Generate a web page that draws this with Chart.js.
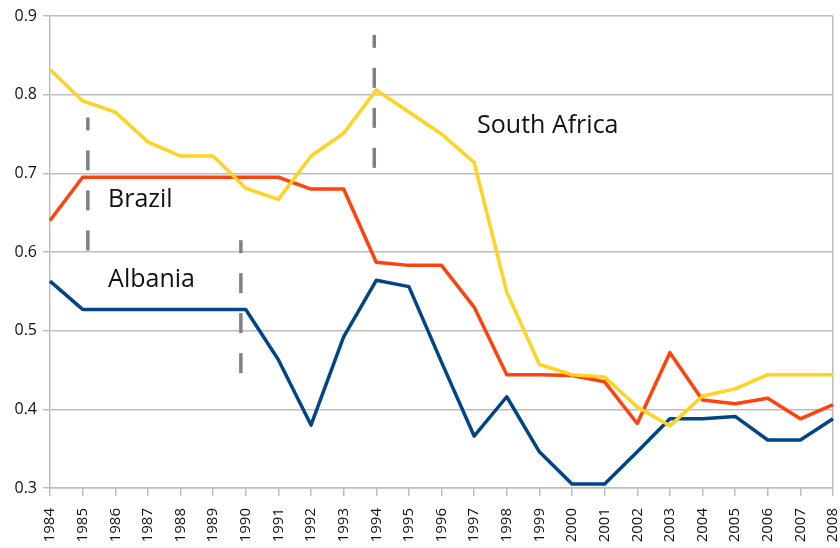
<!DOCTYPE html>
<html>
<head>
<meta charset="utf-8">
<script src="https://cdn.jsdelivr.net/npm/chart.js@4/dist/chart.umd.min.js"></script>
<style>
  html, body { margin: 0; padding: 0; background: #ffffff; }
  #wrap { width: 840px; height: 548px; position: relative; }
</style>
</head>
<body>
<div id="wrap"><canvas id="c" width="840" height="548"></canvas></div>
<script>
const years = ['1984','1985','1986','1987','1988','1989','1990','1991','1992','1993','1994','1995','1996','1997','1998','1999','2000','2001','2002','2003','2004','2005','2006','2007','2008'];

const southAfrica = [0.832,0.792,0.778,0.740,0.722,0.722,0.681,0.667,0.722,0.751,0.806,0.778,0.750,0.714,0.549,0.457,0.444,0.441,0.403,0.379,0.417,0.426,0.444,0.444,0.444];
const brazil      = [0.640,0.695,0.695,0.695,0.695,0.695,0.695,0.695,0.680,0.680,0.587,0.583,0.583,0.530,0.444,0.444,0.443,0.435,0.382,0.472,0.412,0.407,0.414,0.388,0.406];
const albania     = [0.563,0.527,0.527,0.527,0.527,0.527,0.527,0.463,0.380,0.492,0.564,0.556,0.460,0.366,0.416,0.346,0.305,0.305,0.346,0.388,0.388,0.391,0.361,0.361,0.388];

// dashed vertical markers: year position, low value, high value
const markerYears = [1985.16, 1989.85, 1993.94];
const markerLow   = [0.602, 0.446, 0.707];
const markerHigh  = [0.771, 0.615, 0.876];

// series name annotations: text, x (category index), y (value)
const labelTexts = ['South Africa','Brazil','Albania'];
const labelX     = [13.09, 1.78, 1.78];
const labelY     = [0.760, 0.666, 0.564];

const yTicks = [0.3,0.4,0.5,0.6,0.7,0.8,0.9];

const FONT = "'Open Sans', 'DejaVu Sans', sans-serif";
const GRID = '#bdbdbd';

const markerDatasets = markerYears.map((yr, i) => ({
  label: 'marker' + i,
  xAxisID: 'xm',
  data: [{x: yr, y: markerLow[i]}, {x: yr, y: markerHigh[i]}],
  borderColor: '#808080',
  borderWidth: 3.5,
  borderDash: [20, 20],
  borderCapStyle: 'butt',
  pointRadius: 0,
  fill: false,
  tension: 0
}));

const labelPlugin = {
  id: 'seriesLabels',
  afterDatasetsDraw(chart) {
    const ctx = chart.ctx;
    const xs = chart.scales.x, ys = chart.scales.y;
    ctx.save();
    ctx.font = "25px " + FONT;
    ctx.fillStyle = '#111111';
    ctx.textAlign = 'left';
    ctx.textBaseline = 'middle';
    labelTexts.forEach((t, i) => {
      ctx.fillText(t, xs.getPixelForValue(labelX[i]), ys.getPixelForValue(labelY[i]));
    });
    ctx.restore();
  }
};

new Chart(document.getElementById('c'), {
  type: 'line',
  data: {
    labels: years,
    datasets: [
      { label: 'South Africa', data: southAfrica, borderColor: '#FFD320', borderWidth: 3.5, pointRadius: 0, tension: 0, fill: false, borderJoinStyle: 'round' },
      { label: 'Brazil', data: brazil, borderColor: '#FF420E', borderWidth: 3.5, pointRadius: 0, tension: 0, fill: false, borderJoinStyle: 'round' },
      { label: 'Albania', data: albania, borderColor: '#004586', borderWidth: 3.5, pointRadius: 0, tension: 0, fill: false, borderJoinStyle: 'round' },
      ...markerDatasets
    ]
  },
  options: {
    responsive: false,
    animation: false,
    devicePixelRatio: 1,
    layout: { padding: { left: 0, right: 7, top: 16, bottom: 0 } },
    plugins: { legend: { display: false }, tooltip: { enabled: false } },
    scales: {
      x: {
        type: 'category',
        offset: false,
        afterFit(scale) { scale.height = 60; scale.paddingLeft = 0; scale.paddingRight = 0; },
        grid: {
          drawOnChartArea: true,
          color: (c) => (c.index === years.length - 1 ? GRID : 'rgba(0,0,0,0)'),
          tickColor: GRID,
          tickLength: 8,
          lineWidth: 1.5
        },
        border: { display: true, color: GRID, width: 1.5 },
        ticks: {
          autoSkip: false,
          maxRotation: 90,
          minRotation: 90,
          padding: 12,
          color: '#111111',
          font: { family: FONT, size: 15 }
        }
      },
      xm: {
        type: 'linear',
        display: false,
        min: 1984,
        max: 2008,
        afterFit(scale) { scale.height = 0; scale.paddingLeft = 0; scale.paddingRight = 0; }
      },
      y: {
        min: 0.3,
        max: 0.9,
        afterFit(scale) { scale.width = 50; scale.paddingTop = 0; scale.paddingBottom = 0; },
        afterBuildTicks(scale) { scale.ticks = yTicks.map(v => ({ value: v })); },
        grid: { color: GRID, tickColor: GRID, tickLength: 7, lineWidth: 1.5 },
        border: { display: true, color: GRID, width: 1.5 },
        ticks: {
          padding: 6,
          color: '#111111',
          font: { family: FONT, size: 16 },
          callback: (v) => v.toFixed(1)
        }
      }
    }
  },
  plugins: [labelPlugin]
});
</script>
</body>
</html>
